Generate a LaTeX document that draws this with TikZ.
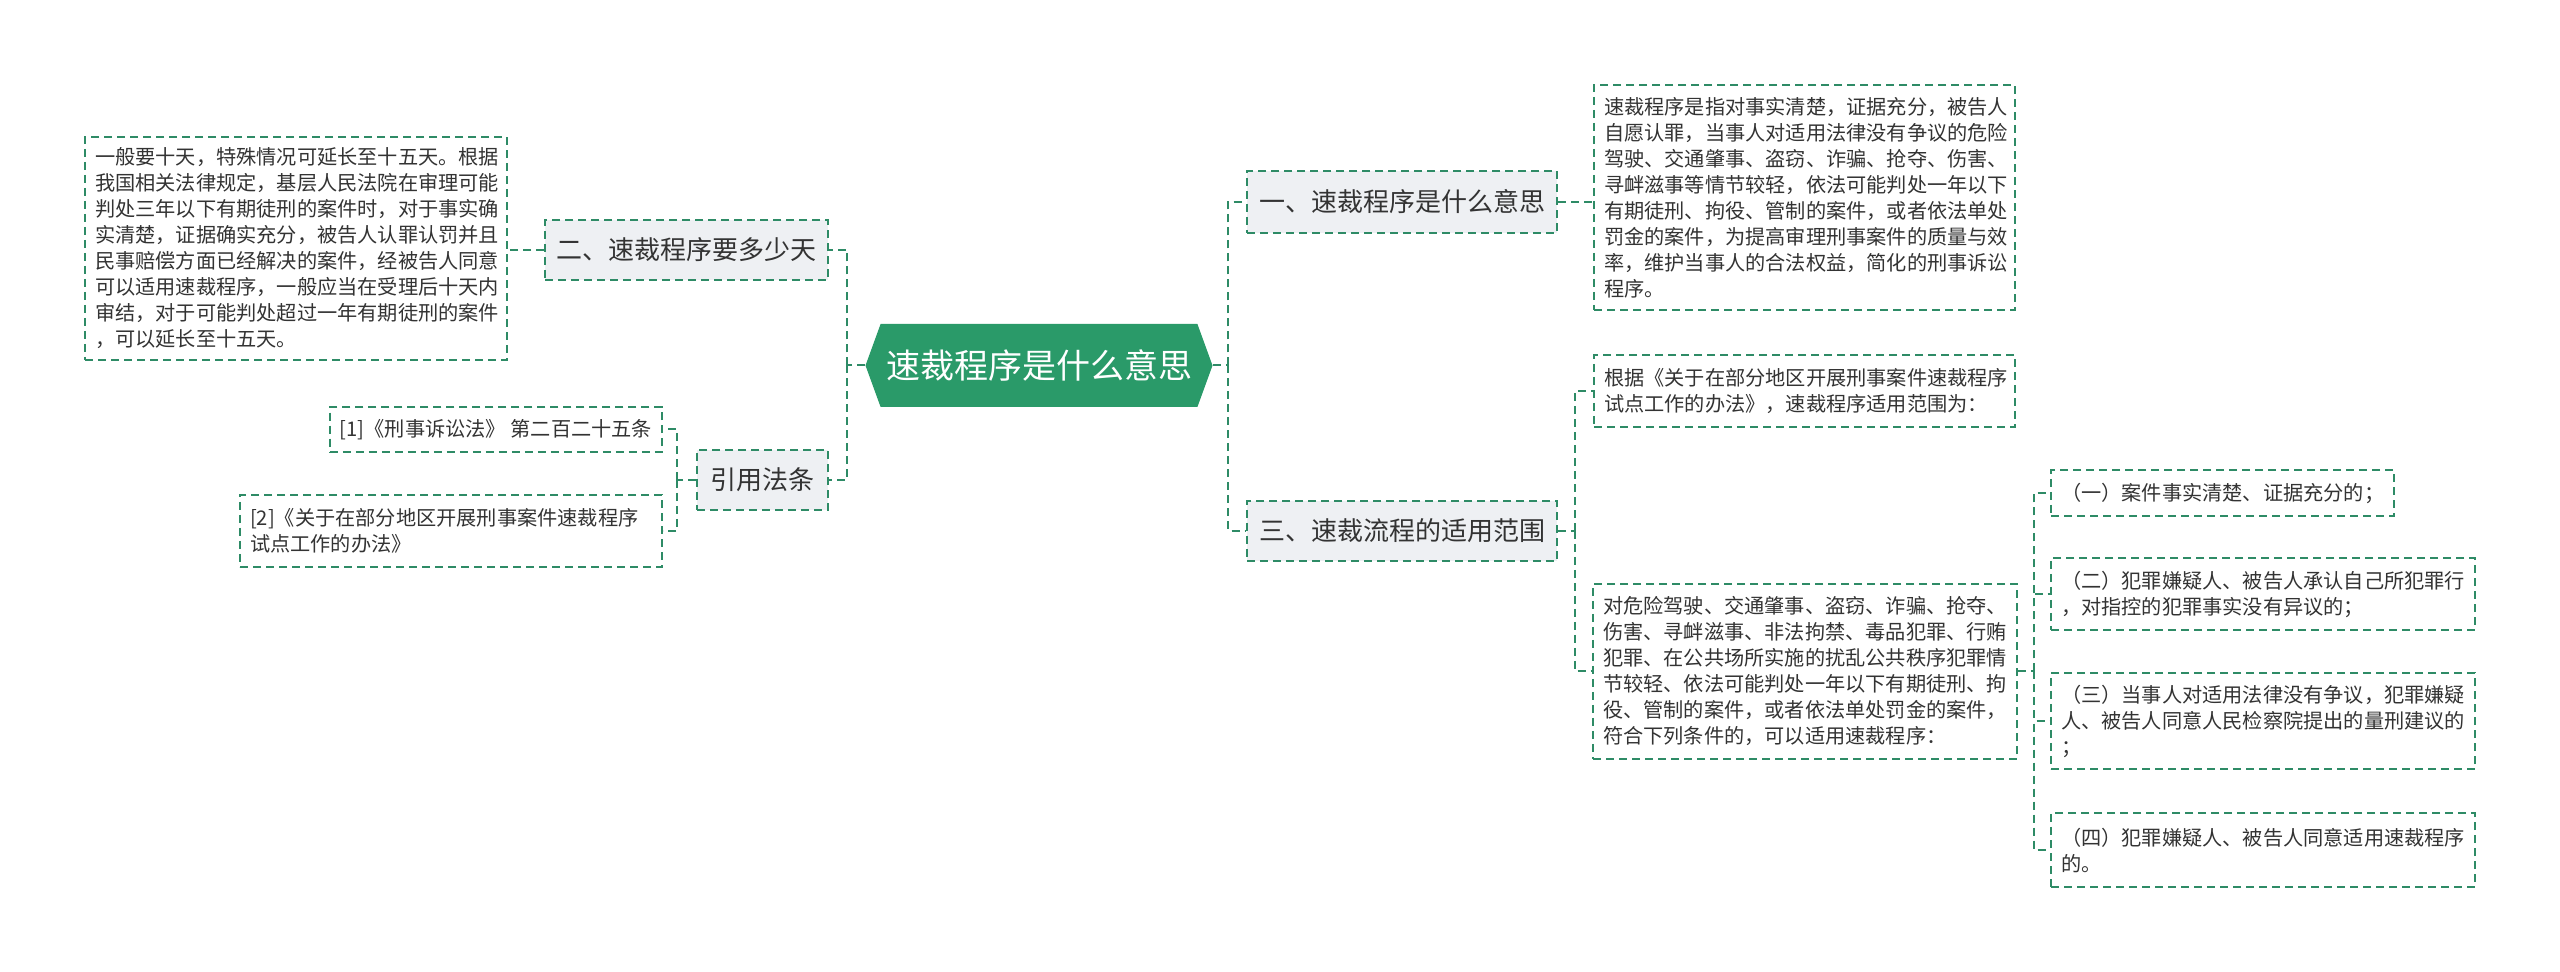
\documentclass[tikz,border=0pt]{standalone}
\usepackage{fontspec}
\setmainfont{Noto Sans CJK SC}
\usepackage{tikz}
\usetikzlibrary{shapes.symbols}
\definecolor{linegreen}{HTML}{2E8B66}
\definecolor{rootgreen}{HTML}{2A9A69}
\definecolor{topicgray}{HTML}{EEF0F3}
\definecolor{textgray}{HTML}{333333}

\begin{document}
\begin{tikzpicture}[x=0.5pt,y=-0.5pt,
	link/.style={draw=linegreen,line width=1pt,dash pattern=on 4pt off 2.5pt},
	elbow/.style={to path={|- (\tikztotarget)}},
	root node/.style={signal,signal to=west and east,signal pointer angle=140,
		fill=rootgreen,text=white,inner sep=0pt,font=\fontsize{17}{20}\selectfont},
	topic node/.style={rectangle,fill=topicgray,draw=linegreen,line width=1pt,
		dash pattern=on 4pt off 2.5pt,text=textgray,inner sep=0pt,
		font=\fontsize{13}{15}\selectfont},
	leaf node/.style={rectangle,draw=linegreen,line width=1pt,
		dash pattern=on 4pt off 2.5pt,text=textgray,inner xsep=5pt,inner ysep=0pt,
		align=left,font=\fontsize{10.1}{13}\selectfont}]

	\fill[white] (0,0) rectangle (2560,972);
	\useasboundingbox (0,0) rectangle (2560,972);

	\node[root node,minimum width=173.5pt,minimum height=41.5pt] (root) at (1039,365.5) {速裁程序是什么意思};

	\node[topic node,minimum width=141.5pt,minimum height=30pt] (howlong) at (686.5,250) {二、速裁程序要多少天};
	\node[topic node,minimum width=65.5pt,minimum height=30pt] (law) at (762.5,480) {引用法条};
	\node[topic node,minimum width=155pt,minimum height=31pt] (meaning) at (1402,202) {一、速裁程序是什么意思};
	\node[topic node,minimum width=155pt,minimum height=30pt] (scope) at (1402,531) {三、速裁流程的适用范围};

	\node[leaf node,text width=201pt,minimum height=111.5pt] (days) at (296,248.5)
		{一般要十天，特殊情况可延长至十五天。根据\\
		我国相关法律规定，基层人民法院在审理可能\\
		判处三年以下有期徒刑的案件时，对于事实确\\
		实清楚，证据确实充分，被告人认罪认罚并且\\
		民事赔偿方面已经解决的案件，经被告人同意\\
		可以适用速裁程序，一般应当在受理后十天内\\
		审结，对于可能判处超过一年有期徒刑的案件\\
		，可以延长至十五天。};
	\node[leaf node,minimum width=166pt,minimum height=22.5pt] (ref1) at (496,429.5)
		{[1]《刑事诉讼法》 第二百二十五条};
	\node[leaf node,text width=201pt,minimum height=36pt] (ref2) at (451,531)
		{[2]《关于在部分地区开展刑事案件速裁程序\\
		试点工作的办法》};

	\node[leaf node,text width=200.5pt,minimum height=112.5pt] (define) at (1804.5,197.5)
		{速裁程序是指对事实清楚，证据充分，被告人\\
		自愿认罪，当事人对适用法律没有争议的危险\\
		驾驶、交通肇事、盗窃、诈骗、抢夺、伤害、\\
		寻衅滋事等情节较轻，依法可能判处一年以下\\
		有期徒刑、拘役、管制的案件，或者依法单处\\
		罚金的案件，为提高审理刑事案件的质量与效\\
		率，维护当事人的合法权益，简化的刑事诉讼\\
		程序。};
	\node[leaf node,text width=200.5pt,minimum height=36pt] (basis) at (1804.5,391)
		{根据《关于在部分地区开展刑事案件速裁程序\\
		试点工作的办法》，速裁程序适用范围为：};
	\node[leaf node,text width=202pt,minimum height=87.5pt] (cases) at (1805,671.5)
		{对危险驾驶、交通肇事、盗窃、诈骗、抢夺、\\
		伤害、寻衅滋事、非法拘禁、毒品犯罪、行贿\\
		犯罪、在公共场所实施的扰乱公共秩序犯罪情\\
		节较轻、依法可能判处一年以下有期徒刑、拘\\
		役、管制的案件，或者依法单处罚金的案件，\\
		符合下列条件的，可以适用速裁程序：};

	\node[leaf node,text width=161.5pt,minimum height=23pt] (cond1) at (2222.5,493)
		{（一）案件事实清楚、证据充分的；};
	\node[leaf node,text width=202pt,minimum height=36pt] (cond2) at (2263,594)
		{（二）犯罪嫌疑人、被告人承认自己所犯罪行\\
		，对指控的犯罪事实没有异议的；};
	\node[leaf node,text width=202pt,minimum height=48pt] (cond3) at (2263,721)
		{（三）当事人对适用法律没有争议，犯罪嫌疑\\
		人、被告人同意人民检察院提出的量刑建议的\\
		；};
	\node[leaf node,text width=202pt,minimum height=37pt] (cond4) at (2263,850)
		{（四）犯罪嫌疑人、被告人同意适用速裁程序\\
		的。};

	\coordinate (lt) at (847,365.5);
	\coordinate (rt) at (1228,365.5);
	\coordinate (lawt) at (677,480);
	\coordinate (scopet) at (1575,531);
	\coordinate (casest) at (2034,671.5);

	\path[link]
	(root.west) edge (lt)
	(lt) edge[elbow] (howlong.east)
	(lt) edge[elbow] (law.east)
	(howlong.west) edge (days.east |- howlong.west)
	(law.west) edge (lawt)
	(lawt) edge[elbow] (ref1.east)
	(lawt) edge[elbow] (ref2.east)
	(root.east) edge (rt)
	(rt) edge[elbow] (meaning.west)
	(rt) edge[elbow] (scope.west)
	(meaning.east) edge (define.west |- meaning.east)
	(scope.east) edge (scopet)
	(scopet) edge[elbow] (basis.west)
	(scopet) edge[elbow] (cases.west)
	(cases.east) edge (casest)
	(casest) edge[elbow] (cond1.west)
	(casest) edge[elbow] (cond2.west)
	(casest) edge[elbow] (cond3.west)
	(casest) edge[elbow] (cond4.west);
\end{tikzpicture}
\end{document}
